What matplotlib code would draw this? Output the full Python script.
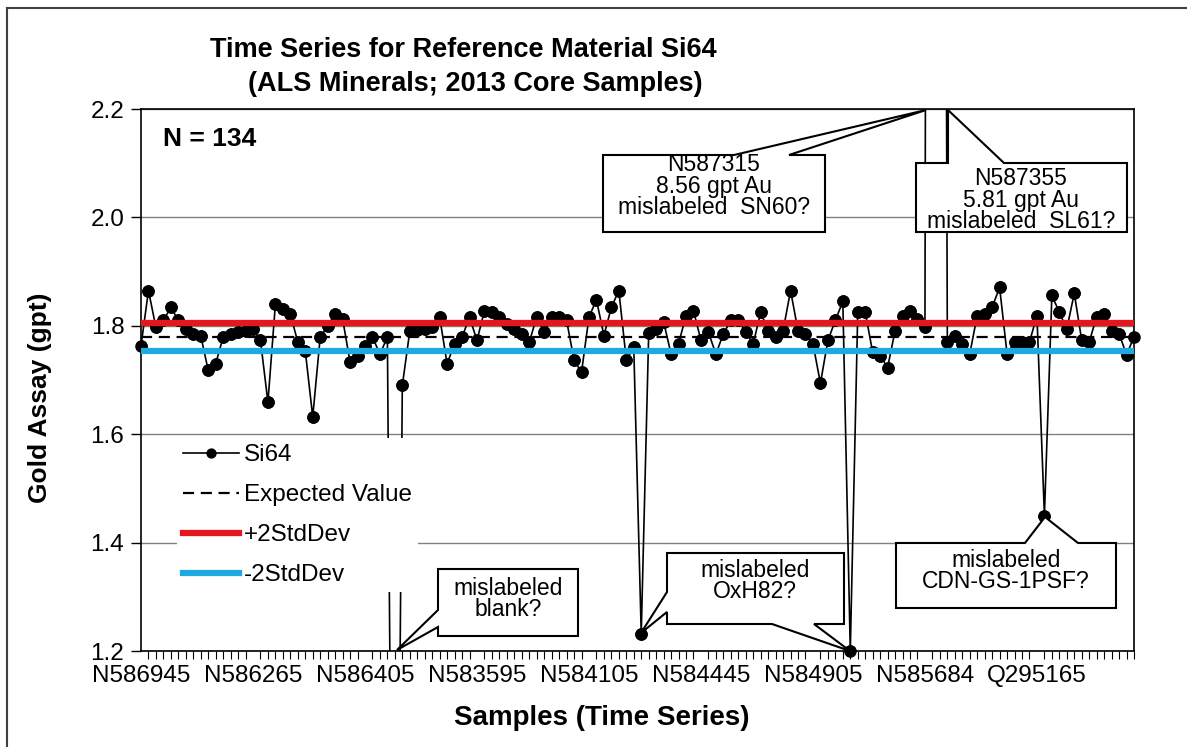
import numpy as np
import matplotlib
matplotlib.use('Agg')
import matplotlib.pyplot as plt
from matplotlib.patches import Polygon
from matplotlib.lines import Line2D

plt.rcParams['font.family'] = ['Liberation Sans', 'DejaVu Sans']

# Si64 gold assays (gpt), in time order; 134 samples
si64 = [1.763, 1.865, 1.797, 1.810, 1.834, 1.810, 1.794, 1.785, 1.782, 1.718,
        1.730, 1.779, 1.785, 1.788, 1.791, 1.794, 1.773, 1.659, 1.840, 1.831,
        1.822, 1.770, 1.754, 1.632, 1.779, 1.800, 1.822, 1.813, 1.733, 1.745,
        1.763, 1.779, 1.748, 1.779, 0.005, 1.690, 1.790, 1.793, 1.795, 1.798,
        1.816, 1.730, 1.767, 1.779, 1.816, 1.773, 1.828, 1.825, 1.816, 1.804,
        1.794, 1.785, 1.770, 1.816, 1.788, 1.816, 1.816, 1.810, 1.737, 1.714,
        1.816, 1.848, 1.782, 1.834, 1.865, 1.737, 1.760, 1.232, 1.786, 1.794,
        1.807, 1.748, 1.767, 1.819, 1.828, 1.773, 1.788, 1.748, 1.785, 1.810,
        1.811, 1.788, 1.767, 1.825, 1.791, 1.779, 1.791, 1.865, 1.791, 1.785,
        1.767, 1.694, 1.773, 1.810, 1.845, 1.200, 1.825, 1.825, 1.751, 1.745,
        1.723, 1.791, 1.819, 1.828, 1.813, 1.797, 8.560, 5.810, 1.770, 1.782,
        1.767, 1.748, 1.819, 1.822, 1.834, 1.871, 1.748, 1.770, 1.770, 1.770,
        1.819, 1.450, 1.856, 1.825, 1.794, 1.860, 1.773, 1.770, 1.817, 1.822,
        1.791, 1.785, 1.747, 1.779]

expected_value = 1.779
plus_2sd = 1.805
minus_2sd = 1.753

tick_labels = ['N586945', 'N586265', 'N586405', 'N583595', 'N584105',
               'N584445', 'N584905', 'N585684', 'Q295165']
label_step = 15

y_min, y_max = 1.2, 2.2

n = len(si64)
x = np.arange(n)
y = np.array(si64)

fig = plt.figure(figsize=(11.87, 7.47), dpi=100)
ax = fig.add_axes([141 / 1187, 96 / 747, 993 / 1187, 542 / 747])

ax.plot(x, y, color='black', lw=1.2, marker='o', ms=8, label='Si64', zorder=3)
# markers sitting on the axis edge should not be cut in half
on_chart = np.where((y >= y_min) & (y <= y_max), y, np.nan)
ax.plot(x, on_chart, ls='none', marker='o', ms=8, color='black',
        clip_on=False, zorder=3)

ax.axhline(expected_value, color='black', ls=(0, (5, 3)), lw=1.6,
           label='Expected Value', zorder=4)
ax.axhline(plus_2sd, color='#e5161d', lw=4.5, label='+2StdDev', zorder=4)
ax.axhline(minus_2sd, color='#1eaae0', lw=4.5, label='-2StdDev', zorder=4)

ax.set_xlim(0, n - 1)
ax.set_ylim(y_min, y_max)

yt = np.arange(y_min, y_max + 0.01, 0.2)
ax.set_yticks(yt)
ax.set_yticklabels(['%.1f' % v for v in yt])
ax.yaxis.grid(True, color='#808080', lw=1)
ax.set_axisbelow(True)

ax.set_xticks(x[::label_step])
ax.set_xticklabels(tick_labels)
ax.set_xticks(x, minor=True)
ax.tick_params(axis='x', which='major', length=0, pad=10, labelsize=17.5)
ax.tick_params(axis='x', which='minor', length=6, width=0.8, direction='out')
ax.tick_params(axis='y', length=7, width=1, pad=5, labelsize=17.5)
for s in ax.spines.values():
    s.set_linewidth(1.2)

leg = ax.legend(loc='upper left', bbox_to_anchor=(0.036, 0.393),
                borderaxespad=0, fontsize=17.5, handlelength=2.3,
                handletextpad=0.2, labelspacing=0.74, borderpad=0.25,
                markerscale=0.8, frameon=True, fancybox=False,
                facecolor='white', edgecolor='none', framealpha=1)
leg.set_zorder(5)


def px(xp, yp):
    # reference pixel -> axes fraction
    return ((xp - 141) / 993, (651 - yp) / 542)


def callout(points, text, center):
    ax.add_patch(Polygon([px(*p) for p in points], closed=True,
                         transform=ax.transAxes, facecolor='white',
                         edgecolor='black', lw=1.5, clip_on=False, zorder=6))
    ax.text(*px(*center), text, transform=ax.transAxes, ha='center',
            va='center', fontsize=16.5, linespacing=0.9, zorder=7)


callout([(603, 232), (825, 232), (825, 155), (789, 155), (926, 110),
         (734, 155), (603, 155)],
        'N587315\n8.56 gpt Au\nmislabeled  SN60?', (714, 186))
callout([(916, 232), (1127, 232), (1127, 163), (1004, 163), (948, 110),
         (948, 163), (916, 163)],
        'N587355\n5.81 gpt Au\nmislabeled  SL61?', (1021, 200))
callout([(438, 569), (578, 569), (578, 636), (438, 636), (438, 627),
         (397, 650), (438, 610)],
        'mislabeled\nblank?', (508, 599))
callout([(667, 553), (844, 553), (844, 624), (814, 624), (850, 651),
         (772, 624), (667, 624), (667, 612), (641, 633), (667, 592)],
        'mislabeled\nOxH82?', (755, 581))
callout([(896, 608), (1116, 608), (1116, 543), (1078, 543), (1045, 517),
         (1025, 543), (896, 543)],
        'mislabeled\nCDN-GS-1PSF?', (1006, 571))

ax.text(*px(163, 139), 'N = 134', transform=ax.transAxes, ha='left',
        va='center', fontsize=19, fontweight='bold')

fig.text(463 / 1187, 1 - 50 / 747, 'Time Series for Reference Material Si64',
         ha='center', va='center', fontsize=19.5, fontweight='bold')
fig.text(475 / 1187, 1 - 84 / 747, '(ALS Minerals; 2013 Core Samples)',
         ha='center', va='center', fontsize=19.5, fontweight='bold')
fig.text(40 / 1187, 1 - 398 / 747, 'Gold Assay (gpt)', rotation=90,
         ha='center', va='center', fontsize=19, fontweight='bold')
fig.text(602 / 1187, 1 - 718 / 747, 'Samples (Time Series)',
         ha='center', va='center', fontsize=20, fontweight='bold')

# chart-area border: only its top and left edges fall inside the picture
bx, by = 7 / 1187, 1 - 8 / 747
fig.add_artist(Line2D([bx, 1], [by, by], transform=fig.transFigure,
                      color='#404040', lw=1.5))
fig.add_artist(Line2D([bx, bx], [0, by], transform=fig.transFigure,
                      color='#404040', lw=1.5))

fig.savefig('out.png', dpi=100)
